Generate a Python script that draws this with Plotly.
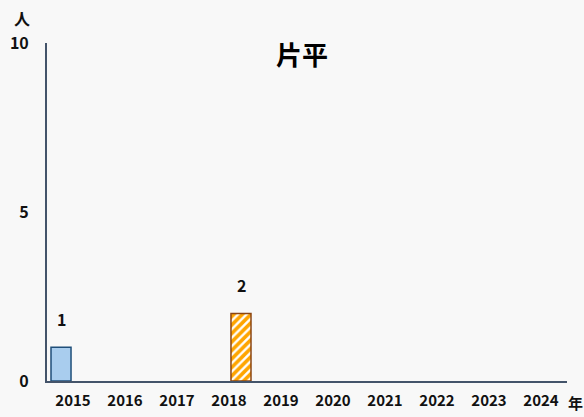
import plotly.graph_objects as go

years = ["2015", "2016", "2017", "2018", "2019", "2020", "2021", "2022", "2023", "2024"]
series_a = [1, 0, 0, 0, 0, 0, 0, 0, 0, 0]
series_b = [0, 0, 0, 2, 0, 0, 0, 0, 0, 0]
title_text = "片平"
y_unit = "人"
x_unit = "年"

FONT = "Noto Sans CJK JP"
bg = "#f8f8f8"

def nz(vals):
    return [v if v else None for v in vals]

fig = go.Figure()
fig.add_trace(go.Bar(
    x=years, y=nz(series_a), width=0.385, offset=-0.423,
    marker=dict(color="#a9cdee", line=dict(color="#1f4e79", width=1.5)),
    showlegend=False, hoverinfo="skip",
))
fig.add_trace(go.Bar(
    x=years, y=nz(series_b), width=0.385, offset=0.038,
    marker=dict(color="white", line=dict(color="#8b4513", width=1.5),
                pattern=dict(shape="/", fgcolor="#ffa500", bgcolor="white",
                             fgopacity=1, size=6, solidity=0.6)),
    showlegend=False, hoverinfo="skip",
))

annots = []
for vals, shift in ((series_a, -12), (series_b, 12)):
    for i, v in enumerate(vals):
        if v:
            annots.append(dict(x=i, y=v, xref="x", yref="y", text=str(v),
                               showarrow=False, xshift=shift, yshift=28,
                               xanchor="center", yanchor="middle",
                               font=dict(family=FONT, size=16, color="#111111",
                                         weight="bold")))

annots += [
    dict(text=y_unit, xref="paper", yref="paper", xanchor="center", yanchor="middle",
         x=-0.048, y=1.0, yshift=25, showarrow=False,
         font=dict(family=FONT, size=16, color="#111111", weight="bold")),
    dict(text=x_unit, xref="paper", yref="paper", xanchor="center", yanchor="middle",
         x=1.0, y=0, xshift=8, yshift=-21, showarrow=False,
         font=dict(family=FONT, size=15, color="#111111", weight="bold")),
]

fig.update_layout(
    width=584, height=417,
    margin=dict(l=47, r=17, t=43, b=36),
    paper_bgcolor=bg, plot_bgcolor=bg,
    barmode="overlay",
    font=dict(family=FONT, size=14, color="#111111"),
    title=dict(text=title_text, x=0.517, xanchor="center",
               y=0.865, yanchor="middle",
               font=dict(family=FONT, size=26, color="#000000", weight="bold")),
    xaxis=dict(type="category", categoryorder="array", categoryarray=years,
               range=[-0.5, len(years) - 0.5],
               showgrid=False, showline=True,
               linecolor="#44546a", linewidth=2, ticks="", automargin=False,
               tickfont=dict(family=FONT, size=15, color="#111111", weight="bold"),
               ticklabelstandoff=5),
    yaxis=dict(range=[0, 10], tickvals=[0, 5, 10], showgrid=False,
               zeroline=False, showline=True, linecolor="#44546a",
               linewidth=2, ticks="", automargin=False,
               tickfont=dict(family=FONT, size=16, color="#111111", weight="bold"),
               ticklabelstandoff=13),
    annotations=annots,
)

fig.write_html("out.html", post_script="document.body.style.margin='0';",
               config={"displayModeBar": False})
